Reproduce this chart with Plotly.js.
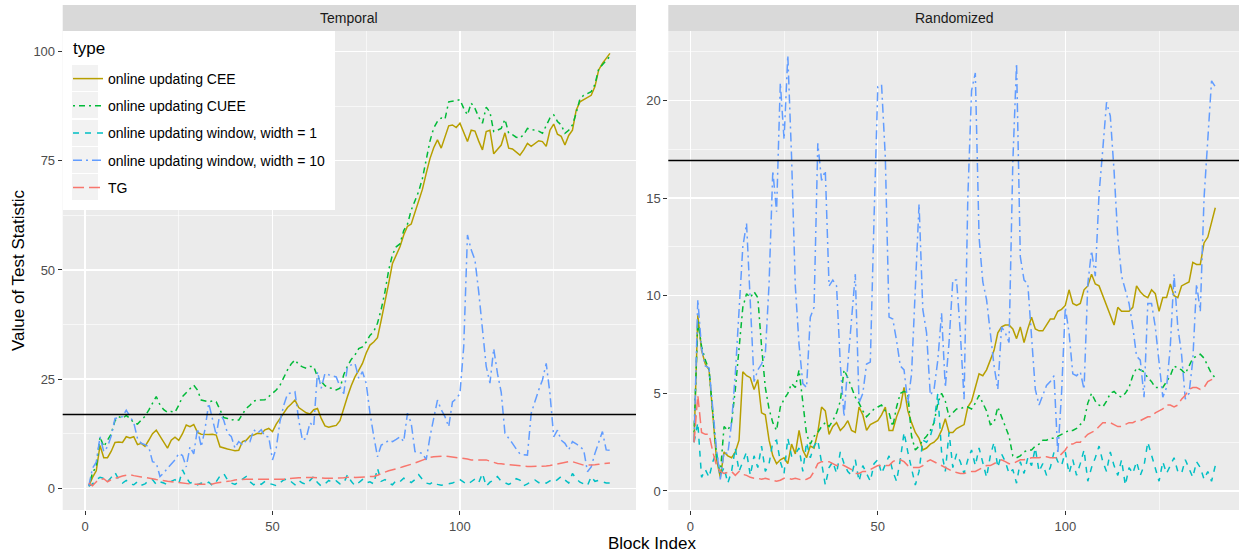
<!DOCTYPE html>
<html>
<head>
<meta charset="utf-8">
<script src="https://cdn.plot.ly/plotly-3.0.1.min.js"></script>
<style>html,body{margin:0;padding:0;background:#fff;}#chart{width:1239px;height:554px;}</style>
</head>
<body>
<div id="chart"></div>
<script>
// ---- data ----
const blockIndex = Array.from({length: 140}, (_, k) => k + 1);
const typeNames = ["online updating CEE", "online updating CUEE", "online updating window, width = 1", "online updating window, width = 10", "TG"];
const legendTitle = "type";
const panelNames = ["Temporal", "Randomized"];
const criticalValue = 16.92;
const xTicks = [0, 50, 100];
const yTicksTemporal = [0, 25, 50, 75, 100];
const yTicksRandomized = [0, 5, 10, 15, 20];

const temporalCEE = [
0.5,2.5,4.0,9.8,7.0,7.0,8.5,10.5,10.6,10.5,
11.8,11.5,11.8,10.0,10.3,9.6,11.0,12.5,13.3,12.0,
10.5,9.2,11.0,11.7,11.0,12.5,14.5,14.1,14.6,12.8,
12.4,12.3,12.3,12.4,12.2,9.5,9.2,9.0,8.8,8.6,
8.7,10.7,11.0,12.0,12.2,12.6,12.5,13.4,13.7,13.0,
14.7,16.0,17.5,18.5,19.3,20.2,18.5,17.8,17.3,17.0,
18.0,18.3,16.0,14.3,14.0,14.2,14.4,15.5,18.5,21.0,
23.5,25.5,27.0,28.6,31.0,32.8,33.5,34.5,38.5,42.5,
47.0,51.5,53.5,55.3,58.0,60.0,60.5,63.0,65.5,68.5,
72.1,75.5,78.0,79.8,77.9,80.5,83.0,83.2,82.6,83.6,
81.5,79.4,82.0,81.8,79.5,77.5,81.7,82.0,76.6,77.5,
78.6,81.4,77.9,77.7,77.0,76.3,77.5,79.0,78.3,79.0,
79.6,79.4,78.3,82.0,83.4,81.1,80.6,78.6,80.8,82.0,
86.6,88.5,89.0,89.4,90.0,92.0,95.8,97.3,98.5,99.6];
const temporalCUEE = [
0.5,3.5,5.0,11.8,9.5,11.0,12.5,15.5,16.4,16.0,
16.7,16.0,15.0,14.7,15.5,16.5,17.9,19.5,21.0,19.1,
18.0,17.4,17.6,17.4,19.0,21.0,22.0,22.8,23.6,22.5,
20.2,20.0,19.8,20.0,19.8,18.0,16.2,16.0,15.6,15.8,
15.6,17.0,18.3,19.0,20.0,20.2,20.2,20.3,21.0,21.7,
22.5,23.6,25.5,27.1,28.5,29.4,28.3,27.8,27.5,27.9,
27.9,25.5,24.5,23.5,23.0,22.9,22.5,22.9,26.0,28.0,
29.5,30.5,32.0,32.4,33.5,35.0,35.9,37.8,41.0,45.0,
50.0,53.5,55.3,56.0,59.0,60.5,63.7,65.7,68.0,71.0,
75.0,79.5,82.5,84.0,84.8,84.5,88.5,88.6,88.8,89.0,
87.0,85.5,88.2,87.0,85.0,83.6,87.3,86.1,81.7,82.0,
82.4,84.5,81.3,81.0,80.4,80.2,81.0,82.4,82.2,82.0,
81.8,81.3,83.0,84.8,85.5,84.0,83.2,81.3,82.0,83.2,
85.9,89.2,90.0,90.4,90.8,92.5,96.0,97.0,98.0,98.9];
const temporalWindow1 = [
0.5,1.0,2.0,2.5,2.3,1.5,2.5,3.6,2.0,1.2,
1.8,1.0,0.8,1.5,0.7,1.0,1.8,2.0,0.9,1.5,
1.2,0.8,1.6,2.0,1.0,4.2,2.5,1.2,1.5,0.8,
1.2,0.9,1.4,0.6,1.5,2.8,3.4,1.9,1.2,0.9,
1.5,2.0,2.7,1.5,0.8,1.3,0.9,1.6,1.1,0.9,
0.6,1.3,1.9,2.2,1.5,0.8,1.8,1.2,0.9,1.9,
2.7,1.3,0.5,1.0,1.8,1.3,1.7,1.0,1.2,3.1,
1.6,0.6,1.4,2.0,1.2,1.5,1.0,4.6,1.6,2.0,
1.2,0.8,1.8,1.5,2.3,1.9,1.3,2.0,3.1,2.0,
1.2,1.0,1.5,0.9,0.7,0.9,1.0,1.2,1.6,2.0,
1.4,0.9,1.5,2.1,1.3,3.4,0.5,1.4,1.9,2.7,
1.6,1.2,0.9,1.3,2.2,1.9,0.6,1.0,1.6,1.9,
1.3,1.5,1.2,1.7,1.4,2.0,2.7,1.9,1.2,3.4,
2.2,1.4,1.0,0.6,2.7,1.6,1.8,1.5,1.2,1.2];
const temporalWindow10 = [
0.5,4.6,6.0,11.8,8.4,9.5,12.0,16.0,16.2,16.4,
17.9,16.4,15.0,11.4,10.3,10.0,9.5,6.1,5.8,2.7,
3.5,4.6,5.5,6.5,8.0,7.5,4.9,9.5,7.9,13.7,
9.5,13.5,19.5,16.0,12.2,17.2,15.6,12.6,11.9,9.2,
10.7,9.9,11.0,10.7,13.4,12.6,13.4,11.9,11.8,6.5,
9.2,15.3,19.0,21.6,21.8,22.1,15.6,11.0,11.5,15.0,
14.2,26.7,22.9,26.3,26.0,25.8,25.5,23.3,21.7,27.9,
28.2,28.6,25.2,26.7,24.0,17.2,12.0,7.2,9.9,10.3,
11.0,10.7,11.2,11.8,10.7,17.2,14.9,8.4,8.2,8.0,
6.5,11.8,16.0,20.2,18.0,16.4,14.1,19.8,20.5,21.7,
32.4,58.0,54.6,52.3,45.0,36.0,27.9,24.1,32.0,26.3,
22.0,12.6,11.5,10.3,9.0,7.9,7.7,7.6,17.2,20.0,
22.5,24.8,28.6,21.7,11.8,13.3,11.0,10.3,8.8,10.7,
10.2,9.5,8.8,3.8,4.9,8.0,10.5,13.0,8.8,8.7];
const temporalTG = [
1.2,0.6,1.5,2.0,2.2,1.5,2.0,2.3,2.6,2.8,
3.0,3.1,2.9,2.7,2.6,2.5,2.3,2.1,2.0,1.9,
1.7,1.6,1.5,1.4,1.2,1.2,1.1,1.0,0.9,0.9,
0.9,0.9,0.9,1.0,1.2,1.3,1.5,1.6,1.7,1.9,
2.0,2.1,2.1,2.1,2.1,2.1,2.1,2.0,2.0,2.0,
2.0,2.0,2.1,2.2,2.3,2.3,2.4,2.4,2.5,2.5,
2.5,2.4,2.3,2.3,2.3,2.3,2.3,2.3,2.4,2.5,
2.6,2.5,2.5,2.5,2.6,2.7,2.7,3.0,3.4,3.7,
4.0,4.2,4.4,4.7,5.0,5.2,5.5,5.8,6.1,6.4,
6.8,7.1,7.2,7.3,7.4,7.4,7.3,7.2,7.1,7.0,
6.9,6.7,6.5,6.5,6.6,6.6,6.5,6.2,5.9,5.7,
5.6,5.5,5.4,5.3,5.2,5.1,5.1,5.0,5.0,5.0,
5.0,5.0,5.1,5.2,5.4,5.6,5.8,6.0,6.1,6.1,
5.8,5.5,5.3,5.3,5.3,5.4,5.5,5.6,5.7,5.8];

const randomCEE = [
2.5,9.0,7.2,6.5,6.2,4.0,1.6,0.7,2.0,1.8,
1.7,2.0,2.6,6.1,5.9,5.8,5.2,5.7,4.0,3.9,
2.6,1.8,1.4,1.6,1.7,1.4,2.4,1.9,3.1,2.1,
1.7,2.3,2.2,3.0,4.3,4.1,2.9,3.3,3.5,3.1,
3.3,3.6,3.1,3.0,4.3,3.9,3.1,3.4,3.5,3.6,
3.9,4.3,3.1,3.1,3.8,4.3,5.3,4.1,3.5,3.0,
2.7,2.1,2.2,2.4,2.5,2.7,3.1,3.7,3.0,3.0,
3.2,3.3,3.4,4.3,4.6,5.3,6.0,5.9,6.2,6.7,
7.2,8.1,8.4,8.5,8.5,8.3,7.8,8.4,7.6,8.3,
8.9,8.3,8.2,8.2,8.5,8.8,8.8,9.2,9.3,9.5,
10.3,9.6,9.5,9.6,10.3,10.5,11.1,10.6,10.5,10.0,
9.5,9.1,8.5,9.4,9.2,9.2,9.2,9.4,10.5,10.2,
10.0,9.9,10.3,10.1,9.2,9.9,9.9,10.6,10.0,9.9,
10.5,10.6,10.7,11.7,11.6,11.6,12.7,13.0,13.8,14.5];
const randomCUEE = [
3.0,8.7,7.4,6.7,6.2,3.8,1.8,0.9,3.3,3.1,
3.5,5.2,7.2,9.4,10.1,9.9,10.2,9.9,7.4,5.3,
4.2,3.5,3.1,4.3,4.7,5.0,5.5,5.3,6.2,4.5,
2.9,2.4,2.8,3.0,3.3,3.5,3.3,3.6,4.0,4.6,
6.2,5.8,5.3,4.8,4.5,4.1,3.8,4.0,4.2,4.3,
4.4,4.1,4.0,3.3,4.3,5.0,5.1,5.0,2.8,2.1,
2.3,2.6,2.8,3.1,3.5,4.5,5.0,4.6,3.8,4.0,
4.2,4.2,4.3,4.3,4.2,4.5,4.9,4.5,4.1,3.4,
3.5,4.3,3.8,3.3,2.8,1.8,1.7,1.8,2.0,2.1,
2.1,2.3,2.4,2.6,2.6,2.7,2.7,2.8,2.9,3.0,
3.1,3.1,3.2,3.4,3.6,4.5,5.0,4.6,4.4,4.3,
4.6,5.0,5.1,4.9,4.8,5.0,5.3,5.9,6.3,6.2,
6.1,5.8,5.6,5.3,5.3,5.3,5.6,5.9,6.4,6.3,
6.2,6.0,6.4,6.8,6.9,7.0,6.8,6.4,6.0,5.8];
const randomWindow1 = [
2.5,3.5,0.7,1.1,0.7,1.5,2.0,0.8,1.2,0.4,
1.0,2.2,1.0,1.5,2.0,0.8,1.8,1.2,2.3,1.0,
1.4,2.5,2.6,1.5,0.9,2.7,1.8,1.9,2.2,1.0,
2.5,1.7,2.3,2.6,1.4,0.3,1.2,1.5,0.9,2.0,
1.4,1.0,0.8,1.6,0.5,1.3,0.9,0.5,1.4,1.6,
0.9,1.4,1.8,1.0,0.5,1.6,3.0,2.0,1.2,0.3,
1.0,2.6,2.5,2.8,3.5,5.0,2.0,1.0,3.0,1.2,
1.9,1.5,0.9,1.6,2.1,1.3,2.2,1.5,0.7,1.8,
2.5,1.2,1.9,1.5,0.9,1.1,0.4,1.5,0.9,1.7,
1.3,2.2,1.0,1.4,0.8,1.2,2.0,1.5,1.3,2.0,
0.9,1.6,0.8,1.4,2.1,0.5,1.2,1.7,2.3,1.5,
1.0,2.0,1.3,0.8,1.6,0.3,1.2,0.9,1.5,0.8,
1.3,2.5,1.8,1.1,0.5,1.5,0.9,1.3,1.7,1.0,
0.9,1.6,1.1,0.7,1.5,1.2,0.6,1.0,0.5,1.3];
const randomWindow10 = [
2.5,9.8,7.3,6.4,6.3,4.2,2.1,0.6,2.0,1.9,
3.5,6.0,9.0,12.5,13.7,9.5,5.6,6.2,6.5,7.0,
10.6,16.4,14.3,20.9,18.0,22.3,17.1,10.5,7.5,5.5,
5.3,8.9,9.4,17.8,15.9,16.4,10.5,10.8,10.5,6.5,
3.8,6.5,8.6,11.1,4.5,5.0,6.5,6.6,14.0,20.7,
20.8,17.1,8.9,8.8,7.7,6.4,6.2,4.5,6.0,10.5,
14.7,9.3,8.1,4.9,5.2,6.7,9.1,5.3,7.6,10.8,
10.8,8.1,4.7,15.0,20.5,21.4,13.0,10.7,9.8,8.1,
6.4,5.2,8.4,8.1,7.6,16.8,21.9,12.0,10.8,10.6,
8.0,5.2,4.4,4.9,5.4,5.6,5.9,1.9,5.0,9.4,
8.1,6.0,5.9,6.1,5.2,10.6,12.3,11.0,15.2,17.5,
19.9,19.2,16.4,13.0,11.0,10.3,9.6,8.4,6.9,6.7,
4.8,9.6,9.6,8.4,6.7,4.8,5.3,7.4,11.1,8.4,
7.0,4.7,5.0,6.7,10.6,9.2,15.0,18.3,21.0,20.7];
const randomTG = [
2.5,4.9,3.0,2.9,2.9,2.0,1.3,1.0,0.9,0.95,
1.0,0.8,1.0,0.85,0.8,0.7,0.65,0.65,0.6,0.65,
0.6,0.55,0.5,0.55,0.65,0.65,0.6,0.65,0.6,0.55,
0.6,0.7,1.0,1.4,1.5,1.5,1.5,1.4,1.3,1.4,
1.3,1.2,1.1,0.9,0.9,1.0,1.0,1.1,1.2,1.3,
1.3,1.3,1.3,1.5,1.6,1.6,1.5,1.3,1.2,1.2,
1.2,1.3,1.5,1.6,1.5,1.4,1.3,1.2,1.1,1.0,
0.95,0.9,0.9,0.95,1.0,1.0,1.1,1.2,1.3,1.3,
1.4,1.5,1.6,1.5,1.4,1.4,1.5,1.6,1.6,1.65,
1.7,1.7,1.7,1.75,1.75,1.7,1.7,1.7,1.9,2.1,
2.4,2.4,2.5,2.5,2.7,2.9,3.0,3.1,3.3,3.5,
3.5,3.5,3.4,3.3,3.3,3.4,3.5,3.5,3.6,3.6,
3.7,3.8,3.8,4.0,4.1,4.2,4.4,4.4,4.3,4.4,
4.7,4.9,5.2,5.3,5.3,5.2,5.3,5.6,5.7,5.8];

// ---- styles ----
const colors = ["#B79F00", "#00BA38", "#00BFC4", "#619CFF", "#F8766D"];
const dashes = ["solid", "2px,4px,6px,4px", "6px,6px", "9px,4px,2px,4px", "11px,5px"];

const temporalSeries = [temporalCEE, temporalCUEE, temporalWindow1, temporalWindow10, temporalTG];
const randomSeries = [randomCEE, randomCUEE, randomWindow1, randomWindow10, randomTG];

const traces = [];
typeNames.forEach((name, k) => {
  traces.push({
    x: blockIndex, y: temporalSeries[k], type: "scatter", mode: "lines",
    name: name, legendgroup: "g" + k, showlegend: true,
    xaxis: "x", yaxis: "y",
    line: {color: colors[k], width: 1.5, dash: dashes[k]},
    hoverinfo: "skip"
  });
});
typeNames.forEach((name, k) => {
  traces.push({
    x: blockIndex, y: randomSeries[k], type: "scatter", mode: "lines",
    name: name, legendgroup: "g" + k, showlegend: false,
    xaxis: "x2", yaxis: "y2",
    line: {color: colors[k], width: 1.5, dash: dashes[k]},
    hoverinfo: "skip"
  });
});

const W = 1239, H = 554;
const pTop = 31, pBot = 510;
const lL = 62.7, lR = 636, rL = 668.3, rR = 1239;
const yDom = [(H - pBot) / H, (H - pTop) / H];
const px = v => v / W, py = v => (H - v) / H;

const tickFont = {family: "Liberation Sans, Arial, sans-serif", size: 13, color: "#4D4D4D"};
function xAxis(dom, range) {
  return {
    domain: dom, range: range, tickvals: xTicks, ticks: "outside", ticklen: 4, tickwidth: 1,
    tickcolor: "#333333", tickfont: tickFont, showgrid: true, gridcolor: "#FFFFFF", gridwidth: 1.3,
    minor: {dtick: 25, tick0: 0, showgrid: true, gridcolor: "#FFFFFF", gridwidth: 0.6},
    zeroline: false, showline: false, fixedrange: true
  };
}
function yAxis(range, vals, minorStep, anchor) {
  return {
    domain: yDom, range: range, tickvals: vals, ticks: "outside", ticklen: 4, tickwidth: 1,
    tickcolor: "#333333", tickfont: tickFont, showgrid: true, gridcolor: "#FFFFFF", gridwidth: 1.3,
    minor: {dtick: minorStep, tick0: minorStep, showgrid: true, gridcolor: "#FFFFFF", gridwidth: 0.6},
    zeroline: false, showline: false, anchor: anchor, fixedrange: true
  };
}

// legend decoration: white box and grey key backgrounds (ggplot style)
const legendShapes = [
  {type: "rect", xref: "paper", yref: "paper", x0: px(63), x1: px(335), y0: py(210), y1: py(31),
   fillcolor: "#FFFFFF", line: {width: 0}, layer: "above"}
];
[65, 92, 120, 147, 174].forEach(t => {
  legendShapes.push({type: "rect", xref: "paper", yref: "paper", x0: px(72), x1: px(98), y0: py(t + 26), y1: py(t),
    fillcolor: "#F2F2F2", line: {width: 0}, layer: "above"});
});

const layout = {
  width: W, height: H,
  margin: {l: 0, r: 0, t: 0, b: 0},
  paper_bgcolor: "#FFFFFF", plot_bgcolor: "#EBEBEB",
  font: {family: "Liberation Sans, Arial, sans-serif", color: "#000000"},
  xaxis: xAxis([px(lL), px(lR)], [-5.95, 146.95]),
  xaxis2: Object.assign(xAxis([px(rL), px(rR)], [-5.87, 146.32]), {anchor: "y2"}),
  yaxis: yAxis([-4.97, 104.72], yTicksTemporal, 12.5, "x"),
  yaxis2: yAxis([-0.973, 23.55], yTicksRandomized, 2.5, "x2"),
  showlegend: true,
  legend: {
    x: px(68), y: py(63), xanchor: "left", yanchor: "top",
    bgcolor: "rgba(0,0,0,0)", borderwidth: 0,
    font: {size: 14, color: "#000000"},
    traceorder: "grouped", tracegroupgap: 6, itemwidth: 30
  },
  shapes: [
    {type: "rect", xref: "paper", yref: "paper", x0: px(lL), x1: px(lR), y0: py(31), y1: py(5),
     fillcolor: "#D9D9D9", line: {width: 0}, layer: "below"},
    {type: "rect", xref: "paper", yref: "paper", x0: px(rL), x1: 1, y0: py(31), y1: py(5),
     fillcolor: "#D9D9D9", line: {width: 0}, layer: "below"},
    {type: "line", xref: "x domain", yref: "y", x0: 0, x1: 1, y0: criticalValue, y1: criticalValue,
     line: {color: "#000000", width: 1.5}},
    {type: "line", xref: "x2 domain", yref: "y2", x0: 0, x1: 1, y0: criticalValue, y1: criticalValue,
     line: {color: "#000000", width: 1.5}}
  ].concat(legendShapes),
  annotations: [
    {text: legendTitle, xref: "paper", yref: "paper", x: px(71), y: py(48),
     showarrow: false, font: {size: 17, color: "#000000"}, xanchor: "left", yanchor: "middle"},
    {text: panelNames[0], xref: "paper", yref: "paper", x: px((lL + lR) / 2), y: py(18),
     showarrow: false, font: {size: 14, color: "#1A1A1A"}, xanchor: "center", yanchor: "middle"},
    {text: panelNames[1], xref: "paper", yref: "paper", x: px((rL + 1241) / 2), y: py(18),
     showarrow: false, font: {size: 14, color: "#1A1A1A"}, xanchor: "center", yanchor: "middle"},
    {text: "Block Index", xref: "paper", yref: "paper", x: px(652), y: py(543),
     showarrow: false, font: {size: 17, color: "#000000"}, xanchor: "center", yanchor: "middle"},
    {text: "Value of Test Statistic", xref: "paper", yref: "paper", x: px(18), y: py(271),
     showarrow: false, textangle: -90, font: {size: 17, color: "#000000"}, xanchor: "center", yanchor: "middle"}
  ]
};

Plotly.newPlot("chart", traces, layout, {staticPlot: true, displayModeBar: false});
</script>
</body>
</html>
